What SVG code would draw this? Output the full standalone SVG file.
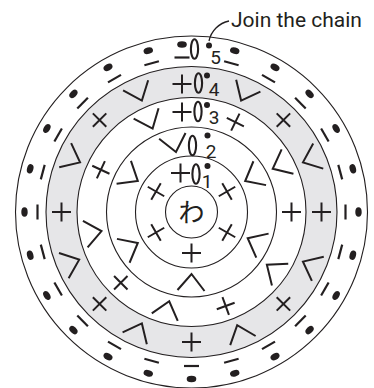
<svg xmlns="http://www.w3.org/2000/svg" xmlns:xlink="http://www.w3.org/1999/xlink" width="374" height="388" viewBox="0 0 374 388">
<style>
.ring{fill:none;stroke:#231f20;stroke-width:1.1}
.num{font-family:Roboto,"Liberation Sans",sans-serif;font-size:19px;fill:#231f20;text-anchor:middle}
.ch{fill:none;stroke:#231f20;stroke-width:2.1}
.sd{fill:#231f20}
.lbl{font-family:Roboto,"Liberation Sans",sans-serif;font-size:21px;fill:#231f20}
.lead{fill:none;stroke:#231f20;stroke-width:1.3}
</style>
<defs>
<path id="p" fill="none" stroke="#231f20" stroke-width="2" d="M-9.5,0H9.5M0,-9.5V9.5"/>
<path id="v" fill="none" stroke="#231f20" stroke-width="2" d="M-13,-9L0,8L14,-8"/>
<g id="s5"><path fill="none" stroke="#231f20" stroke-width="2.2" d="M-7.5,6.5H7.5"/><ellipse fill="#231f20" cx="0" cy="-6.5" rx="4.8" ry="3.2"/></g>
</defs>
<g id="rings">
<circle cx="191.5" cy="212" r="176" fill="#fff" class="ring"/>
<circle cx="191.5" cy="212" r="145.5" fill="#e6e6e8" stroke="#231f20" stroke-width="1.1"/>
<circle cx="191.5" cy="212" r="114.5" fill="#fff" stroke="#231f20" stroke-width="1.1"/>
<circle cx="191.5" cy="212" r="85" class="ring"/>
<circle cx="191.5" cy="212" r="56" class="ring"/>
<circle cx="191.5" cy="212" r="26" class="ring"/>
</g>
<g id="center"><text x="191.5" y="222" font-family="'Noto Sans CJK JP',sans-serif" font-size="26" text-anchor="middle" fill="#231f20">わ</text></g>
<g id="round-1">
<use xlink:href="#p" transform="translate(180.5 173)"/>
<use xlink:href="#p" transform="rotate(60 191.5 212) translate(191.5 171)"/>
<use xlink:href="#p" transform="rotate(120 191.5 212) translate(191.5 171)"/>
<use xlink:href="#p" transform="rotate(180 191.5 212) translate(191.5 171)"/>
<use xlink:href="#p" transform="rotate(240 191.5 212) translate(191.5 171)"/>
<use xlink:href="#p" transform="rotate(300 191.5 212) translate(191.5 171)"/>
<ellipse class="ch" cx="196" cy="174" rx="3.6" ry="9.8"/>
<circle class="sd" cx="207.5" cy="166" r="3"/>
<text class="num" x="207" y="188">1</text>
</g>
<g id="round-2">
<use xlink:href="#v" transform="rotate(-14.5 191.5 212) translate(191.5 142)"/>
<use xlink:href="#v" transform="rotate(60 191.5 212) translate(191.5 142)"/>
<use xlink:href="#v" transform="rotate(115 191.5 212) translate(191.5 142)"/>
<use xlink:href="#v" transform="rotate(180 191.5 212) translate(191.5 142)"/>
<use xlink:href="#v" transform="rotate(240 191.5 212) translate(191.5 142)"/>
<use xlink:href="#v" transform="rotate(300 191.5 212) translate(191.5 142)"/>
<ellipse class="ch" cx="192.5" cy="145.5" rx="3.6" ry="9.8"/>
<circle class="sd" cx="207.5" cy="135.5" r="3"/>
<text class="num" x="211" y="158">2</text>
</g>
<g id="round-3">
<use xlink:href="#p" transform="translate(182 112)"/>
<use xlink:href="#p" transform="rotate(26 191.5 212) translate(191.5 112)"/>
<use xlink:href="#v" transform="rotate(62 191.5 212) translate(191.5 112)"/>
<use xlink:href="#p" transform="rotate(90 191.5 212) translate(191.5 112)"/>
<use xlink:href="#v" transform="rotate(125 191.5 212) translate(191.5 112)"/>
<use xlink:href="#p" transform="rotate(160 191.5 212) translate(191.5 112)"/>
<use xlink:href="#v" transform="rotate(194 191.5 212) translate(191.5 112)"/>
<use xlink:href="#p" transform="rotate(225 191.5 212) translate(191.5 112)"/>
<use xlink:href="#v" transform="rotate(258 191.5 212) translate(191.5 112)"/>
<use xlink:href="#p" transform="rotate(295 191.5 212) translate(191.5 112)"/>
<use xlink:href="#v" transform="rotate(335 191.5 212) translate(191.5 112)"/>
<ellipse class="ch" cx="198" cy="111.5" rx="3.6" ry="9.8"/>
<circle class="sd" cx="207" cy="105" r="3"/>
<text class="num" x="214" y="123.5">3</text>
</g>
<g id="round-4">
<use xlink:href="#p" transform="translate(182 84)"/>
<use xlink:href="#v" transform="rotate(24 191.5 212) translate(191.5 82)"/>
<use xlink:href="#p" transform="rotate(45 191.5 212) translate(191.5 82)"/>
<use xlink:href="#v" transform="rotate(66 191.5 212) translate(191.5 82)"/>
<use xlink:href="#p" transform="rotate(90 191.5 212) translate(191.5 82)"/>
<use xlink:href="#v" transform="rotate(114 191.5 212) translate(191.5 82)"/>
<use xlink:href="#p" transform="rotate(135 191.5 212) translate(191.5 82)"/>
<use xlink:href="#v" transform="rotate(158 191.5 212) translate(191.5 82)"/>
<use xlink:href="#p" transform="rotate(180 191.5 212) translate(191.5 82)"/>
<use xlink:href="#v" transform="rotate(204 191.5 212) translate(191.5 82)"/>
<use xlink:href="#p" transform="rotate(225 191.5 212) translate(191.5 82)"/>
<use xlink:href="#v" transform="rotate(247 191.5 212) translate(191.5 82)"/>
<use xlink:href="#p" transform="rotate(270 191.5 212) translate(191.5 82)"/>
<use xlink:href="#v" transform="rotate(294 191.5 212) translate(191.5 82)"/>
<use xlink:href="#p" transform="rotate(315 191.5 212) translate(191.5 82)"/>
<use xlink:href="#v" transform="rotate(336 191.5 212) translate(191.5 82)"/>
<ellipse class="ch" cx="198.5" cy="83" rx="3.6" ry="9.8"/>
<circle class="sd" cx="207" cy="75.5" r="3"/>
<text class="num" x="214" y="95.5">4</text>
</g>
<g id="round-5">
<use xlink:href="#s5" transform="translate(182 51)"/>
<use xlink:href="#s5" transform="rotate(15 191.5 212) translate(191.5 51.5)"/>
<use xlink:href="#s5" transform="rotate(30 191.5 212) translate(191.5 51.5)"/>
<use xlink:href="#s5" transform="rotate(45 191.5 212) translate(191.5 51.5)"/>
<use xlink:href="#s5" transform="rotate(60 191.5 212) translate(191.5 51.5)"/>
<use xlink:href="#s5" transform="rotate(75 191.5 212) translate(191.5 51.5)"/>
<use xlink:href="#s5" transform="rotate(90 191.5 212) translate(191.5 51.5)"/>
<use xlink:href="#s5" transform="rotate(105 191.5 212) translate(191.5 51.5)"/>
<use xlink:href="#s5" transform="rotate(120 191.5 212) translate(191.5 51.5)"/>
<use xlink:href="#s5" transform="rotate(135 191.5 212) translate(191.5 51.5)"/>
<use xlink:href="#s5" transform="rotate(150 191.5 212) translate(191.5 51.5)"/>
<use xlink:href="#s5" transform="rotate(165 191.5 212) translate(191.5 51.5)"/>
<use xlink:href="#s5" transform="rotate(180 191.5 212) translate(191.5 51.5)"/>
<use xlink:href="#s5" transform="rotate(195 191.5 212) translate(191.5 51.5)"/>
<use xlink:href="#s5" transform="rotate(210 191.5 212) translate(191.5 51.5)"/>
<use xlink:href="#s5" transform="rotate(225 191.5 212) translate(191.5 51.5)"/>
<use xlink:href="#s5" transform="rotate(240 191.5 212) translate(191.5 51.5)"/>
<use xlink:href="#s5" transform="rotate(255 191.5 212) translate(191.5 51.5)"/>
<use xlink:href="#s5" transform="rotate(270 191.5 212) translate(191.5 51.5)"/>
<use xlink:href="#s5" transform="rotate(285 191.5 212) translate(191.5 51.5)"/>
<use xlink:href="#s5" transform="rotate(300 191.5 212) translate(191.5 51.5)"/>
<use xlink:href="#s5" transform="rotate(315 191.5 212) translate(191.5 51.5)"/>
<use xlink:href="#s5" transform="rotate(330 191.5 212) translate(191.5 51.5)"/>
<use xlink:href="#s5" transform="rotate(345 191.5 212) translate(191.5 51.5)"/>
<ellipse class="ch" cx="194.5" cy="49" rx="3.6" ry="9.8"/>
<circle class="sd" cx="209" cy="45.5" r="3"/>
<text class="num" x="215.5" y="63.5">5</text>
</g>
<g id="label"><text class="lbl" x="231" y="27">Join the chain</text></g>
<g id="connectors"><path class="lead" d="M209,41 C211,31 219,23 229,21"/></g>
</svg>
